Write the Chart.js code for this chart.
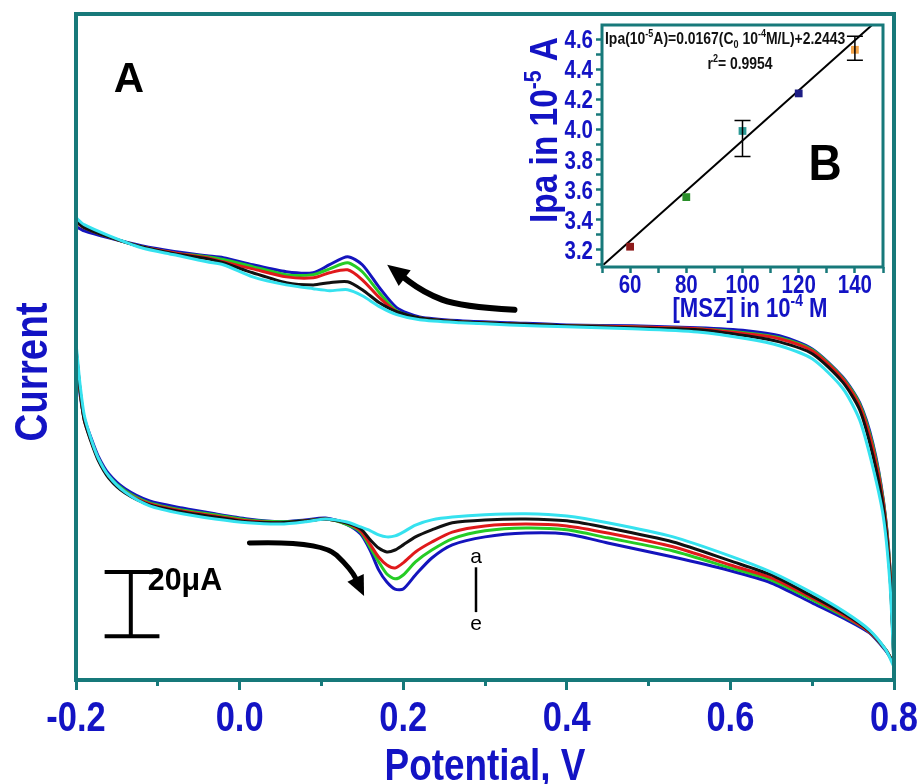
<!DOCTYPE html>
<html>
<head>
<meta charset="utf-8">
<script src="https://cdn.jsdelivr.net/npm/chart.js@4.4.1/dist/chart.umd.min.js"></script>
<style>
  html, body { margin: 0; padding: 0; background: #ffffff; }
  #wrap { position: relative; width: 920px; height: 784px; }
  #cv { position: absolute; left: 0; top: 0; }
  #inset { position: absolute; left: 520px; top: 18px; }
</style>
</head>
<body>
<div id="wrap">
  <canvas id="cv" width="920" height="784"></canvas>
  <canvas id="inset" width="372" height="312"></canvas>
</div>
<script>
"use strict";

// Potential (V) where the curves were read, forward scan (bottom branch)
const potLower = [-0.2, -0.198, -0.195, -0.19, -0.182, -0.173, -0.16, -0.14, -0.11, -0.07, -0.03, 0.01, 0.05, 0.08, 0.105,
    0.13, 0.148, 0.16, 0.17, 0.18, 0.19, 0.2, 0.215, 0.235, 0.26, 0.3, 0.35, 0.4, 0.45, 0.53, 0.6, 0.65, 0.7, 0.74, 0.77, 0.79, 0.8];
// reverse scan (top branch), listed with rising potential
const potUpper = [-0.2, -0.19, -0.16, -0.12, -0.08, -0.04, -0.02, 0.016, 0.057, 0.09, 0.11, 0.132, 0.15, 0.171, 0.192,
    0.22, 0.27, 0.33, 0.4, 0.48, 0.56, 0.62, 0.66, 0.7, 0.737, 0.758, 0.774, 0.787, 0.795, 0.8];

// Current in uA (a = cyan ... e = blue)
const cyanLower = [-4.7, -10.0, -17.8, -27.2, -34.4, -40.6, -46.3, -51.3, -55.6, -58.1, -59.7, -60.9, -61.3, -60.6, -59.7,
    -60.6, -62.2, -63.4, -64.7, -65.3, -65.0, -63.8, -61.6, -60.0, -59.1, -58.4, -58.1, -58.8, -60.9, -65.3, -71.3, -76.3, -82.8, -88.8, -94.4, -100.6, -105.9];
const blackLower = [-6.3, -11.6, -19.4, -28.8, -35.3, -41.3, -46.9, -51.6, -55.3, -57.5, -59.1, -60.6, -60.9, -60.3, -59.7,
    -60.9, -62.8, -66.3, -68.8, -70.0, -69.4, -67.8, -65.3, -63.1, -60.9, -60.0, -59.7, -60.3, -62.5, -66.9, -72.8, -77.2, -83.8, -89.4, -94.7, -100.6, -105.3];
const redLower = [-6.9, -12.2, -19.7, -28.8, -35.0, -40.9, -46.6, -51.3, -55.0, -57.2, -58.8, -60.3, -60.9, -60.3, -59.7,
    -60.9, -63.4, -67.8, -71.6, -74.1, -75.0, -73.4, -70.0, -66.9, -63.8, -61.9, -61.3, -61.9, -64.1, -68.4, -74.1, -78.1, -84.4, -90.0, -95.0, -100.6, -105.0];
const greenLower = [-6.9, -12.5, -20.0, -28.4, -34.7, -40.6, -46.3, -50.9, -54.7, -56.9, -58.4, -60.0, -60.6, -60.3, -59.7,
    -61.3, -63.8, -68.8, -73.1, -76.9, -78.4, -77.2, -73.1, -69.4, -65.9, -63.4, -62.5, -63.1, -65.6, -69.7, -75.0, -78.8, -85.0, -90.3, -95.0, -100.6, -105.0];
const blueLower = [-8.4, -13.8, -20.9, -28.1, -34.1, -40.0, -45.6, -50.3, -54.1, -56.3, -58.1, -59.7, -60.6, -60.0, -59.4,
    -61.3, -64.4, -69.7, -75.6, -79.4, -81.6, -81.6, -77.2, -71.9, -67.8, -65.3, -64.1, -64.4, -67.2, -71.6, -75.9, -79.7, -85.9, -90.9, -95.3, -100.9, -104.7];

const cyanUpper = [34.4, 32.2, 28.8, 25.0, 22.8, 20.6, 19.7, 15.9, 13.4, 12.2, 11.6, 11.9, 10.0, 6.6, 4.1,
    2.5, 1.6, 0.9, 0.3, -0.3, -1.3, -3.4, -5.6, -9.7, -18.8, -28.8, -43.4, -59.1, -79.7, -105.9];
const blackUpper = [33.4, 31.3, 28.4, 25.3, 23.1, 21.6, 20.3, 17.2, 14.1, 13.4, 14.1, 14.4, 11.9, 7.8, 5.0,
    3.1, 1.9, 1.3, 0.6, 0.0, -0.6, -2.5, -4.4, -8.1, -16.9, -25.6, -39.7, -56.3, -77.2, -105.3];
const redUpper = [33.1, 31.3, 28.4, 25.3, 23.4, 21.9, 20.6, 18.4, 15.9, 15.6, 17.2, 18.1, 15.0, 9.4, 5.0,
    3.1, 1.9, 1.3, 0.6, 0.3, -0.3, -1.9, -3.4, -7.2, -15.9, -24.4, -37.5, -54.7, -75.6, -105.0];
const greenUpper = [33.1, 31.3, 28.4, 25.3, 23.4, 22.2, 21.3, 19.1, 16.6, 16.6, 18.4, 20.3, 17.5, 10.9, 5.3,
    3.1, 1.9, 1.3, 0.6, 0.3, -0.3, -1.6, -3.1, -6.9, -15.6, -23.8, -36.6, -54.1, -75.0, -105.0];
const blueUpper = [31.6, 30.3, 28.1, 25.6, 23.8, 22.5, 21.9, 19.7, 17.5, 17.2, 19.7, 22.2, 19.7, 12.5, 6.3,
    3.4, 2.2, 1.6, 0.9, 0.6, 0.0, -0.9, -2.5, -6.6, -15.3, -23.4, -35.9, -53.8, -74.7, -104.7];

const xTickLabels = [-0.2, 0.0, 0.2, 0.4, 0.6, 0.8];

// Inset B: anodic peak current vs concentration
const concMSZ = [60, 80, 100, 120, 140];
const ipaValues = [3.22, 3.55, 3.99, 4.24, 4.53];
const ipaErrLow = [null, null, 3.82, null, 4.46];
const ipaErrHigh = [null, null, 4.06, null, 4.62];
const fitX = [50.5, 147];
const fitY = [3.10, 4.71];
const insetXLabels = [60, 80, 100, 120, 140];
const insetYLabels = [3.2, 3.4, 3.6, 3.8, 4.0, 4.2, 4.4, 4.6];

// Styling
const FRAME = '#17797a';
const BLUE_TEXT = '#1313c4';
const SANS = '"Liberation Sans", Arial, sans-serif';
const curveColors = ['#36e2ef', '#111111', '#e0191b', '#25cc25', '#1414bd'];
const pointColors = ['#8e1a1a', '#2a8f2a', '#2c9a96', '#1d1d85', '#f4a54c'];

// text in a narrowed Arial-like face; segs = [[text, 0 | 1 (sup) | -1 (sub)], ...]
// (x, y) is the middle of the capitals
function drawRich(ctx, segs, x, y, size, opts) {
    ctx.save();
    ctx.translate(x, y);
    if (opts.rotate) ctx.rotate(opts.rotate);
    ctx.scale(opts.squeeze || 0.82, 1);
    ctx.fillStyle = opts.color || '#000';
    ctx.textBaseline = 'alphabetic';
    ctx.textAlign = 'left';
    const weight = opts.weight || 'bold';
    const fontFor = m => `${weight} ${m ? Math.round(size * 0.62) : size}px ${SANS}`;
    let w = 0;
    segs.forEach(([t, m]) => { ctx.font = fontFor(m); w += ctx.measureText(t).width; });
    let cx = opts.align === 'left' ? 0 : opts.align === 'right' ? -w : -w / 2;
    const base = size * 0.36;
    segs.forEach(([t, m]) => {
        ctx.font = fontFor(m);
        const dy = m === 1 ? -size * 0.4 : m === -1 ? size * 0.2 : 0;
        ctx.fillText(t, cx, base + dy);
        cx += ctx.measureText(t).width;
    });
    ctx.restore();
}

function loop(lower, upper) {
    const pts = potLower.map((v, i) => ({ x: v, y: lower[i] }));
    for (let i = potUpper.length - 1; i >= 0; i--) {
        pts.push({ x: potUpper[i], y: upper[i] });
    }
    return pts;
}

const curves = [
    loop(cyanLower, cyanUpper),
    loop(blackLower, blackUpper),
    loop(redLower, redUpper),
    loop(greenLower, greenUpper),
    loop(blueLower, blueUpper)
];

function arrow(ctx, pts, head) {
    ctx.beginPath();
    ctx.moveTo(pts[0][0], pts[0][1]);
    for (let i = 1; i < pts.length - 1; i++) {
        const mx = (pts[i][0] + pts[i + 1][0]) / 2;
        const my = (pts[i][1] + pts[i + 1][1]) / 2;
        ctx.quadraticCurveTo(pts[i][0], pts[i][1], mx, my);
    }
    const end = pts[pts.length - 1];
    const prev = pts[pts.length - 2];
    const ang = Math.atan2(end[1] - prev[1], end[0] - prev[0]);
    const bx = end[0] - Math.cos(ang) * head * 0.6;
    const by = end[1] - Math.sin(ang) * head * 0.6;
    ctx.lineTo(bx, by);
    ctx.stroke();
    ctx.beginPath();
    ctx.moveTo(end[0] + Math.cos(ang) * head * 0.4, end[1] + Math.sin(ang) * head * 0.4);
    ctx.lineTo(bx + Math.cos(ang + Math.PI / 2) * head * 0.45, by + Math.sin(ang + Math.PI / 2) * head * 0.45);
    ctx.lineTo(bx + Math.cos(ang - Math.PI / 2) * head * 0.45, by + Math.sin(ang - Math.PI / 2) * head * 0.45);
    ctx.closePath();
    ctx.fill();
}

// shorter marks at the odd tenths
function minorTicks(ctx, scale, values, pos, len, horizontal) {
    ctx.save();
    ctx.strokeStyle = '#ffffff';
    ctx.lineWidth = 5;
    values.forEach(v => {
        const p = scale.getPixelForValue(v);
        ctx.beginPath();
        if (horizontal) { ctx.moveTo(p, pos + len); ctx.lineTo(p, pos + 12); }
        else { ctx.moveTo(pos - len, p); ctx.lineTo(pos - 12, p); }
        ctx.stroke();
    });
    ctx.restore();
}

const mainDecor = {
    id: 'mainDecor',
    afterDatasetsDraw(chart) {
        const { ctx, chartArea: a, scales: { x, y } } = chart;
        const P = (v, i) => [x.getPixelForValue(v), y.getPixelForValue(i)];
        ctx.save();

        // minor ticks are shorter than the labelled ones
        minorTicks(ctx, x, [-0.1, 0.1, 0.3, 0.5, 0.7], a.bottom, 6, true);

        // frame
        ctx.strokeStyle = FRAME;
        ctx.lineWidth = 4;
        ctx.strokeRect(a.left, a.top, a.right - a.left, a.bottom - a.top);

        // tick labels and axis titles
        xTickLabels.forEach(v => {
            drawRich(ctx, [[v.toFixed(1), 0]], x.getPixelForValue(v), a.bottom + 36, 42, { color: BLUE_TEXT });
        });
        drawRich(ctx, [['Potential, V', 0]], (a.left + a.right) / 2, a.bottom + 84, 45, { color: BLUE_TEXT });
        drawRich(ctx, [['Current', 0]], 30, 372, 47, { color: BLUE_TEXT, rotate: -Math.PI / 2 });

        // scan direction arrows
        ctx.strokeStyle = '#000';
        ctx.fillStyle = '#000';
        ctx.lineWidth = 6;
        ctx.lineCap = 'round';
        arrow(ctx, [P(0.336, 5.6), P(0.27, 6.6), P(0.225, 11.0), P(0.189, 18.0)], 22);
        ctx.lineWidth = 5;
        arrow(ctx, [P(0.012, -67.2), P(0.10, -66.5), P(0.137, -75.5), P(0.148, -81.5)], 20);

        // 20 uA scale bar
        ctx.lineWidth = 4;
        ctx.lineCap = 'butt';
        const [bx, bTop] = P(-0.133, -76.3);
        const [, bBot] = P(-0.133, -96.3);
        const [bl] = P(-0.165, 0);
        const [br] = P(-0.098, 0);
        ctx.beginPath();
        ctx.moveTo(bx, bTop); ctx.lineTo(bx, bBot);
        ctx.moveTo(bl, bTop); ctx.lineTo(br, bTop);
        ctx.moveTo(bl, bBot); ctx.lineTo(br, bBot);
        ctx.stroke();
        drawRich(ctx, [['20\u03bcA', 0]], bx + 17, bTop + 6, 32, { align: 'left', squeeze: 0.95 });

        // a -> e label
        const [ax, ay] = P(0.289, -74.8);
        const [, ey] = P(0.289, -88.8);
        ctx.lineWidth = 2.5;
        ctx.beginPath();
        ctx.moveTo(ax, ay); ctx.lineTo(ax, ey);
        ctx.stroke();
        ctx.font = '21px ' + SANS;
        ctx.textAlign = 'center';
        ctx.textBaseline = 'middle';
        ctx.fillText('a', ax, ay - 10);
        ctx.fillText('e', ax, ey + 12);

        // panel letter
        drawRich(ctx, [['A', 0]], a.left + 53, a.top + 63, 42, { squeeze: 1 });
        ctx.restore();
    }
};

const mainChart = new Chart(document.getElementById('cv'), {
    type: 'scatter',
    data: {
        datasets: curves.map((pts, i) => ({
            data: pts,
            showLine: true,
            borderColor: curveColors[i],
            borderWidth: 3,
            pointRadius: 0,
            tension: 0.25
        }))
    },
    options: {
        responsive: false,
        animation: false,
        devicePixelRatio: 1,
        layout: { padding: { top: 14, right: 26, left: 0, bottom: 0 } },
        plugins: { legend: { display: false }, tooltip: { enabled: false } },
        scales: {
            x: {
                type: 'linear',
                min: -0.2,
                max: 0.8,
                afterFit: s => { s.height = 104; s.paddingLeft = 0; s.paddingRight = 0; },
                afterBuildTicks: s => {
                    s.ticks = [];
                    for (let k = -2; k <= 8; k++) s.ticks.push({ value: k / 10 });
                },
                ticks: { display: false, autoSkip: false },
                grid: { drawOnChartArea: false, tickLength: 10, tickWidth: 3, tickColor: FRAME },
                border: { display: false }
            },
            y: {
                min: -110,
                max: 98,
                afterFit: s => { s.width = 76; s.paddingTop = 0; s.paddingBottom = 0; },
                ticks: { display: false },
                grid: { display: false },
                border: { display: false }
            }
        }
    },
    plugins: [mainDecor]
});

// Inset
const insetDecor = {
    id: 'insetDecor',
    beforeDatasetsDraw(chart) {
        const { ctx, chartArea: a } = chart;
        ctx.save();
        ctx.fillStyle = '#ffffff';
        ctx.fillRect(a.left, a.top, a.right - a.left, a.bottom - a.top);
        ctx.restore();
    },
    afterDatasetsDraw(chart) {
        const { ctx, chartArea: a, scales: { x, y } } = chart;
        ctx.save();
        // error bars
        ctx.strokeStyle = '#000';
        ctx.lineWidth = 1.5;
        concMSZ.forEach((c, i) => {
            if (ipaErrLow[i] === null) return;
            const px = x.getPixelForValue(c);
            const lo = y.getPixelForValue(ipaErrLow[i]);
            const hi = y.getPixelForValue(ipaErrHigh[i]);
            ctx.beginPath();
            ctx.moveTo(px, lo); ctx.lineTo(px, hi);
            ctx.moveTo(px - 8, lo); ctx.lineTo(px + 8, lo);
            ctx.moveTo(px - 8, hi); ctx.lineTo(px + 8, hi);
            ctx.stroke();
        });
        // frame
        ctx.strokeStyle = FRAME;
        ctx.lineWidth = 3;
        ctx.strokeRect(a.left, a.top, a.right - a.left, a.bottom - a.top);

        // tick labels, axis titles
        insetYLabels.forEach(v => {
            drawRich(ctx, [[v.toFixed(1), 0]], a.left - 9, y.getPixelForValue(v), 25, { color: BLUE_TEXT, align: 'right' });
        });
        insetXLabels.forEach(v => {
            drawRich(ctx, [[String(v), 0]], x.getPixelForValue(v), a.bottom + 17, 25, { color: BLUE_TEXT });
        });
        drawRich(ctx, [['[MSZ] in 10', 0], ['-4', 1], [' M', 0]], a.left + 148, a.bottom + 40, 27, { color: BLUE_TEXT });
        drawRich(ctx, [['Ipa in 10', 0], ['-5', 1], [' A', 0]], 23, a.top + 105, 38, { color: BLUE_TEXT, rotate: -Math.PI / 2, squeeze: 0.88 });

        // equation
        drawRich(ctx, [['Ipa(10', 0], ['-5', 1], ['A)=0.0167(C', 0], ['0', -1], [' 10', 0], ['-4', 1], ['M/L)+2.2443', 0]],
            a.left + 3, a.top + 13, 17, { align: 'left', color: '#111' });
        drawRich(ctx, [['r', 0], ['2', 1], ['= 0.9954', 0]], a.left + 138, a.top + 38, 17, { color: '#111' });
        drawRich(ctx, [['B', 0]], a.left + 223, a.top + 137, 50, { squeeze: 0.92, color: '#000' });
        ctx.restore();
    }
};

const insetChart = new Chart(document.getElementById('inset'), {
    type: 'scatter',
    data: {
        datasets: [
            {
                data: concMSZ.map((c, i) => ({ x: c, y: ipaValues[i] })),
                pointStyle: 'rect',
                pointRadius: 5.5,
                pointBackgroundColor: pointColors,
                pointBorderColor: pointColors,
                borderWidth: 0
            },
            {
                data: fitX.map((v, i) => ({ x: v, y: fitY[i] })),
                showLine: true,
                borderColor: '#000',
                borderWidth: 2,
                pointRadius: 0
            }
        ]
    },
    options: {
        responsive: false,
        animation: false,
        devicePixelRatio: 1,
        layout: { padding: { top: 7, right: 9, left: 0, bottom: 0 } },
        plugins: { legend: { display: false }, tooltip: { enabled: false } },
        scales: {
            x: {
                type: 'linear',
                min: 50,
                max: 150,
                afterFit: s => { s.height = 63; s.paddingLeft = 0; s.paddingRight = 0; },
                afterBuildTicks: s => {
                    s.ticks = [];
                    for (let v = 50; v <= 150; v += 10) s.ticks.push({ value: v });
                },
                ticks: { display: false, autoSkip: false },
                grid: { drawOnChartArea: false, tickLength: 6, tickWidth: 2.5, tickColor: FRAME },
                border: { display: false }
            },
            y: {
                min: 3.085,
                max: 4.695,
                afterFit: s => { s.width = 82; s.paddingTop = 0; s.paddingBottom = 0; },
                afterBuildTicks: s => {
                    s.ticks = [];
                    for (let k = 31; k <= 46; k++) s.ticks.push({ value: k / 10 });
                },
                ticks: { display: false, autoSkip: false },
                grid: { drawOnChartArea: false, tickLength: 6, tickWidth: 2.5, tickColor: FRAME },
                border: { display: false }
            }
        }
    },
    plugins: [insetDecor]
});
</script>
</body>
</html>
